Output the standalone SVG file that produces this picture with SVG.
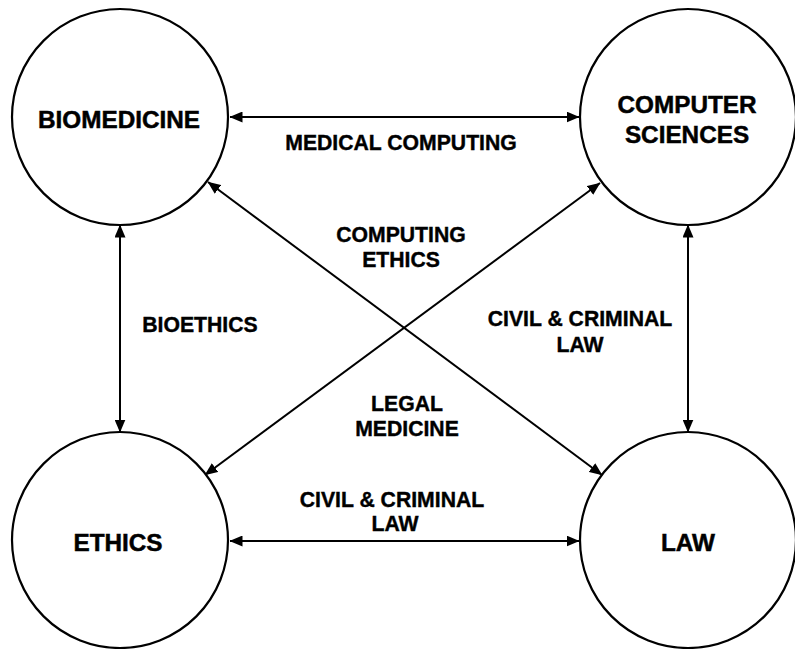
<svg xmlns="http://www.w3.org/2000/svg" width="795" height="649" viewBox="0 0 795 649">
<style>
.node{fill:#fff;stroke:#000;stroke-width:2.2}
.nt{font-family:"Liberation Sans",Arial,sans-serif;font-weight:bold;font-size:24.3px;text-anchor:middle;fill:#000;stroke:#000;stroke-width:0.5}
.lt{font-family:"Liberation Sans",Arial,sans-serif;font-weight:bold;font-size:21.2px;text-anchor:middle;fill:#000;stroke:#000;stroke-width:0.4}
.edge{stroke:#000;stroke-width:2;fill:none;marker-start:url(#ah);marker-end:url(#ah)}
</style>
<defs>
<marker id="ah" viewBox="0 0 13 11" refX="12.5" refY="5.5" markerWidth="13" markerHeight="11" markerUnits="userSpaceOnUse" orient="auto-start-reverse">
<path d="M0,0 L13,5.5 L0,11 z" fill="#000"/>
</marker>
</defs>
<g id="connectors">
<line class="edge" x1="230" y1="117" x2="579" y2="117"/>
<line class="edge" x1="230" y1="541" x2="579" y2="541"/>
<line class="edge" x1="120" y1="225" x2="120" y2="432"/>
<line class="edge" x1="688" y1="225" x2="688" y2="432"/>
<line class="edge" x1="208" y1="182" x2="602" y2="475"/>
<line class="edge" x1="600" y1="183" x2="205" y2="475"/>
</g>
<g id="labels">
<text class="lt" x="401" y="150">MEDICAL COMPUTING</text>
<text class="lt" x="401" y="242">COMPUTING</text>
<text class="lt" x="401" y="267">ETHICS</text>
<text class="lt" x="200" y="332">BIOETHICS</text>
<text class="lt" x="580" y="326">CIVIL &amp; CRIMINAL</text>
<text class="lt" x="580" y="352">LAW</text>
<text class="lt" x="407" y="411">LEGAL</text>
<text class="lt" x="407" y="436">MEDICINE</text>
<text class="lt" x="392" y="507">CIVIL &amp; CRIMINAL</text>
<text class="lt" x="395" y="531">LAW</text>
</g>
<g id="biomedicine">
<circle class="node" cx="120" cy="117" r="108"/>
<text class="nt" x="119" y="128">BIOMEDICINE</text>
</g>
<g id="computer-sciences">
<circle class="node" cx="688" cy="117" r="108"/>
<text class="nt" x="687" y="113">COMPUTER</text>
<text class="nt" x="687" y="143">SCIENCES</text>
</g>
<g id="ethics">
<circle class="node" cx="120" cy="540" r="108"/>
<text class="nt" x="118" y="551">ETHICS</text>
</g>
<g id="law">
<circle class="node" cx="688" cy="540" r="108"/>
<text class="nt" x="688" y="551">LAW</text>
</g>
</svg>
